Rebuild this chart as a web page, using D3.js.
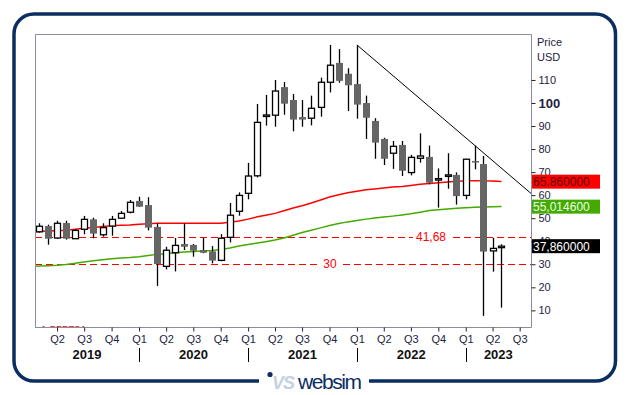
<!DOCTYPE html>
<html>
<head>
<meta charset="utf-8">
<script src="https://cdn.jsdelivr.net/npm/d3@7"></script>
<style>
  html, body { margin: 0; padding: 0; background: #fff; }
  svg { display: block; font-family: "Liberation Sans", Arial, sans-serif; }
</style>
</head>
<body>
<svg id="chart" width="629" height="395"></svg>
<script>
// monthly candles
var months = [
            "2019-02","2019-03","2019-04","2019-05","2019-06","2019-07","2019-08","2019-09","2019-10","2019-11","2019-12",
  "2020-01","2020-02","2020-03","2020-04","2020-05","2020-06","2020-07","2020-08","2020-09","2020-10","2020-11","2020-12",
  "2021-01","2021-02","2021-03","2021-04","2021-05","2021-06","2021-07","2021-08","2021-09","2021-10","2021-11","2021-12",
  "2022-01","2022-02","2022-03","2022-04","2022-05","2022-06","2022-07","2022-08","2022-09","2022-10","2022-11","2022-12",
  "2023-01","2023-02","2023-03","2023-04","2023-05"
];
var opens = [
        44.1, 46.6, 41.4, 47.9, 41.1, 45.2, 49.5, 42.8, 46.6, 50.0, 52.6,
  57.5, 55.7, 46.2, 29.1, 35.0, 38.8, 38.4, 36.2, 35.6, 31.7, 41.7, 53.0,
  60.8, 68.4, 94.3, 94.7, 106.9, 101.3, 93.9, 93.4, 98.1, 109.0, 117.4, 112.7,
  108.2, 100.0, 92.2, 84.4, 78.2, 81.8, 69.8, 76.0, 76.6, 66.8, 68.4, 68.8,
  59.9, 74.8, 73.5, 35.8, 37.6
];
var highs = [
        47.8, 47.2, 48.9, 48.9, 45.2, 51.0, 50.2, 47.8, 51.0, 53.1, 57.9,
  59.3, 59.1, 47.8, 37.6, 41.4, 47.8, 38.8, 41.4, 37.9, 43.1, 56.6, 61.2,
  74.0, 99.6, 103.5, 110.0, 109.1, 103.9, 101.3, 103.2, 111.0, 125.2, 123.4, 115.1,
  125.2, 103.2, 93.4, 84.9, 83.5, 83.5, 77.5, 86.8, 81.5, 71.6, 78.2, 69.9,
  75.8, 81.5, 77.0, 41.5, 38.7
];
var lows = [
        43.7, 38.5, 41.0, 40.7, 41.0, 43.0, 41.3, 42.0, 42.4, 49.9, 52.1,
  54.9, 44.7, 20.6, 27.8, 26.9, 36.2, 33.3, 34.8, 30.4, 31.3, 39.5, 51.1,
  58.2, 67.7, 90.2, 89.7, 94.9, 87.7, 89.7, 90.3, 94.1, 104.6, 108.8, 96.5,
  93.2, 84.4, 75.8, 73.1, 71.4, 68.3, 68.6, 74.1, 64.7, 54.6, 62.8, 55.9,
  58.2, 71.2, 7.6, 26.8, 11.2
];
var closes = [
        46.5, 41.1, 47.8, 41.1, 44.7, 49.5, 43.3, 45.9, 49.5, 52.1, 56.9,
  55.0, 45.9, 30.1, 36.1, 38.2, 37.6, 35.9, 35.0, 31.6, 41.3, 51.3, 59.9,
  68.3, 91.6, 94.8, 105.2, 99.7, 92.8, 92.8, 97.7, 109.0, 116.4, 109.6, 107.7,
  99.3, 93.6, 82.8, 75.8, 81.2, 70.6, 76.4, 77.0, 65.4, 67.2, 68.8, 59.6,
  75.6, 74.3, 35.5, 36.9, 37.86
];

// moving averages, one value per month from Jan 2019
var maStart = "2019-01";
var redMA = [
  44.0, 44.2, 44.4, 44.6, 44.8, 45.2, 45.6, 46.0, 46.4, 46.7, 46.9, 47.1,
  47.4, 47.6, 47.8, 47.8, 47.8, 47.8, 47.8, 47.8, 47.8, 47.8, 48.2, 48.8,
  49.6, 50.6, 51.3, 52.1, 53.2, 54.4, 55.4, 56.6, 57.9, 59.2, 60.2, 61.0,
  61.7, 62.3, 62.7, 63.1, 63.5, 63.8, 64.2, 64.7, 65.1, 65.4, 65.7, 66.0,
  66.2, 66.3, 66.2, 66.1, 65.9
];
var greenMA = [
  29.0, 29.2, 29.4, 29.6, 29.9, 30.4, 31.0, 31.5, 32.0, 32.4, 32.7, 32.9,
  33.3, 33.8, 34.3, 34.6, 35.0, 35.3, 35.6, 35.8, 36.0, 36.4, 37.1, 37.9,
  38.6, 39.2, 39.8, 40.5, 41.4, 42.6, 43.8, 44.8, 45.8, 46.8, 47.7, 48.4,
  49.0, 49.6, 50.1, 50.5, 50.9, 51.4, 51.9, 52.6, 53.3, 53.7, 54.0, 54.3,
  54.5, 54.7, 54.9, 55.0, 55.1
];

var yTicks = [10, 20, 30, 40, 50, 60, 70, 80, 90, 100, 110];
var levels = [41.68, 30];
var levelLabels = ["41,68", "30"];
var trendMonths = ["2022-01", "2023-02"];
var trendValues = [125.2, 81.5];
var boxValues = [65.86, 55.0146, 37.86];
var boxLabels = ["65,860000", "55,014600", "37,860000"];
var boxColors = ["#ff0000", "#44aa00", "#000000"];
var boxTextColors = ["#5a0000", "#eaffea", "#ffffff"];
var years = [2019, 2020, 2021, 2022, 2023];

//////////////////////////////////////////////////////

var parseMonth = d3.timeParse("%Y-%m");
var svg = d3.select("#chart");

var pLeft = 35, pRight = 531, pTop = 34, pBottom = 327;
var navy = "#0b2d62";

var xScale = d3.scaleTime()
    .domain([new Date(2019, 0, 17), new Date(2023, 7, 8)])
    .range([pLeft, pRight]);
var yScale = d3.scaleLinear()
    .domain([(333.4 - pBottom) / 2.304, (333.4 - pTop) / 2.304])
    .range([pBottom, pTop]);

var candles = months.map(function(m, i) {
    return { date: parseMonth(m), o: opens[i], h: highs[i], l: lows[i], c: closes[i] };
});

// frame
svg.append("rect")
    .attr("x", 14).attr("y", 14)
    .attr("width", 601.5).attr("height", 367)
    .attr("rx", 20).attr("ry", 20)
    .attr("fill", "none")
    .attr("stroke", navy)
    .attr("stroke-width", 3.5);

svg.append("defs").append("clipPath").attr("id", "plotclip")
    .append("rect")
    .attr("x", pLeft).attr("y", pTop)
    .attr("width", pRight - pLeft).attr("height", pBottom - pTop);

var plot = svg.append("g").attr("clip-path", "url(#plotclip)");

// label of a level far below the visible range, only its top shows
plot.append("text")
    .attr("x", 37).attr("y", pBottom + 6.5)
    .attr("fill", "#ff0000")
    .attr("font-size", 11)
    .text("-1,555781");

// horizontal levels
levels.forEach(function(v) {
    plot.append("line")
        .attr("x1", pLeft).attr("x2", pRight)
        .attr("y1", Math.round(yScale(v)) + 0.5).attr("y2", Math.round(yScale(v)) + 0.5)
        .attr("stroke", "#ff0000")
        .attr("stroke-width", 1.2)
        .attr("stroke-dasharray", "7,4");
});

var levelLabelX = [431, 330];
levelLabels.forEach(function(t, i) {
    var txt = plot.append("text")
        .attr("x", levelLabelX[i])
        .attr("y", yScale(levels[i]) + 4)
        .attr("text-anchor", "middle")
        .attr("fill", "#ff0000")
        .attr("font-size", 12)
        .text(t);
    var bb = txt.node().getBBox();
    plot.insert("rect", "text:last-child")
        .attr("x", bb.x - 3).attr("y", bb.y)
        .attr("width", bb.width + 6).attr("height", bb.height)
        .attr("fill", "#fff");
});

// moving averages
var maDates = redMA.map(function(d, i) {
    return d3.timeMonth.offset(parseMonth(maStart), i);
});
var maLine = d3.line()
    .x(function(d, i) { return xScale(maDates[i]); })
    .y(function(d) { return yScale(d); });

plot.append("path")
    .datum(greenMA)
    .attr("d", maLine)
    .attr("fill", "none")
    .attr("stroke", "#44aa00")
    .attr("stroke-width", 1.5);

plot.append("path")
    .datum(redMA)
    .attr("d", maLine)
    .attr("fill", "none")
    .attr("stroke", "#ff0000")
    .attr("stroke-width", 1.5);

// trend line through two highs, extended to the right edge
var t0 = parseMonth(trendMonths[0]), t1 = parseMonth(trendMonths[1]);
var trend = d3.scaleLinear().domain([t0, t1]).range(trendValues);
var tEnd = xScale.domain()[1];
plot.append("line")
    .attr("x1", xScale(t0)).attr("y1", yScale(trend(t0)))
    .attr("x2", xScale(tEnd)).attr("y2", yScale(trend(tEnd)))
    .attr("stroke", "#000")
    .attr("stroke-width", 1);

// candles
var cg = plot.selectAll(".candle")
    .data(candles)
    .enter().append("g")
    .attr("class", "candle");

cg.append("line")
    .attr("x1", function(d) { return Math.round(xScale(d.date)) + 0.5; })
    .attr("x2", function(d) { return Math.round(xScale(d.date)) + 0.5; })
    .attr("y1", function(d) { return yScale(d.h); })
    .attr("y2", function(d) { return yScale(d.l); })
    .attr("stroke", "#000")
    .attr("stroke-width", 1.3);

cg.append("rect")
    .attr("x", function(d) {
        var cx = Math.round(xScale(d.date)) + 0.5;
        return d.c >= d.o ? cx - 3 : cx - 3.5;
    })
    .attr("y", function(d) { return yScale(Math.max(d.o, d.c)); })
    .attr("width", function(d) { return d.c >= d.o ? 6 : 7; })
    .attr("height", function(d) {
        return Math.max(1.5, Math.abs(yScale(d.o) - yScale(d.c)));
    })
    .attr("fill", function(d) { return d.c >= d.o ? "#fff" : "#666"; })
    .attr("stroke", function(d) { return d.c >= d.o ? "#000" : "none"; })
    .attr("stroke-width", 1.3);

// plot border
svg.append("path")
    .attr("d", "M" + (pLeft + 0.5) + "," + pBottom + "V" + (pTop + 0.5) + "H" + (pRight + 0.5) + "V" + (pBottom + 0.5) + "H" + pLeft)
    .attr("fill", "none")
    .attr("stroke", "#8c8ca0")
    .attr("stroke-width", 1);

// y axis on the right
var yAxis = svg.append("g")
    .attr("transform", "translate(" + (pRight + 0.5) + ",0)")
    .call(d3.axisRight(yScale).tickValues(yTicks).tickSize(4).tickPadding(3));
yAxis.select(".domain").remove();
yAxis.selectAll("line").attr("stroke", "#222");
yAxis.selectAll("text")
    .attr("fill", "#23233f")
    .attr("font-family", "'Liberation Sans', Arial, sans-serif")
    .attr("font-size", function(d) { return d === 100 ? 13 : 11; })
    .attr("font-weight", function(d) { return d === 100 ? "bold" : "normal"; });

svg.append("text").attr("x", 537).attr("y", 46)
    .attr("font-size", 11).attr("fill", "#23233f").text("Price");
svg.append("text").attr("x", 537).attr("y", 61)
    .attr("font-size", 11).attr("fill", "#23233f").text("USD");

// value boxes
boxValues.forEach(function(v, i) {
    var yy = yScale(v);
    svg.append("rect")
        .attr("x", pRight + 1).attr("y", yy - 7)
        .attr("width", 68).attr("height", 14)
        .attr("fill", boxColors[i]);
    svg.append("text")
        .attr("x", pRight + 2).attr("y", yy + 4.5)
        .attr("font-size", 12)
        .attr("fill", boxTextColors[i])
        .text(boxLabels[i]);
});

// x axis: quarters
var quarters = d3.timeMonth.every(3).range(xScale.domain()[0], xScale.domain()[1]);
var xAxis = svg.append("g")
    .attr("transform", "translate(0," + (pBottom + 0.5) + ")")
    .call(d3.axisBottom(xScale).tickValues(quarters).tickSize(4).tickPadding(4)
        .tickFormat(function(d) { return "Q" + (Math.floor(d.getMonth() / 3) + 1); }));
xAxis.select(".domain").remove();
xAxis.selectAll("line").attr("stroke", "#222");
xAxis.selectAll("text")
    .attr("fill", "#23233f")
    .attr("font-family", "'Liberation Sans', Arial, sans-serif")
    .attr("font-size", 11);

// years
years.forEach(function(yr) {
    var a = Math.max(xScale(new Date(yr, 0, 1)), pLeft);
    var b = Math.min(xScale(new Date(yr + 1, 0, 1)), pRight);
    svg.append("text")
        .attr("x", (a + b) / 2).attr("y", 358.5)
        .attr("text-anchor", "middle")
        .attr("font-size", 13)
        .attr("font-weight", "bold")
        .attr("fill", "#111")
        .text(yr);
    var xs = xScale(new Date(yr, 0, 1));
    if (xs > pLeft) {
        svg.append("line")
            .attr("x1", Math.round(xs) + 0.5).attr("x2", Math.round(xs) + 0.5)
            .attr("y1", 348).attr("y2", 362)
            .attr("stroke", "#000");
    }
});

// logo
svg.append("rect")
    .attr("x", 259).attr("y", 376)
    .attr("width", 110).attr("height", 12)
    .attr("fill", "#fff");
svg.append("circle")
    .attr("cx", 270).attr("cy", 374.5).attr("r", 2.6)
    .attr("fill", navy);
svg.append("text")
    .attr("x", 272).attr("y", 389)
    .attr("font-size", 18)
    .attr("font-style", "italic")
    .attr("font-weight", "bold")
    .attr("fill", "#c5d1e0")
    .attr("textLength", 23)
    .text("VS");
svg.append("text")
    .attr("x", 298).attr("y", 389)
    .attr("font-size", 21)
    .attr("fill", navy)
    .attr("textLength", 64)
    .text("websim");
</script>
</body>
</html>
